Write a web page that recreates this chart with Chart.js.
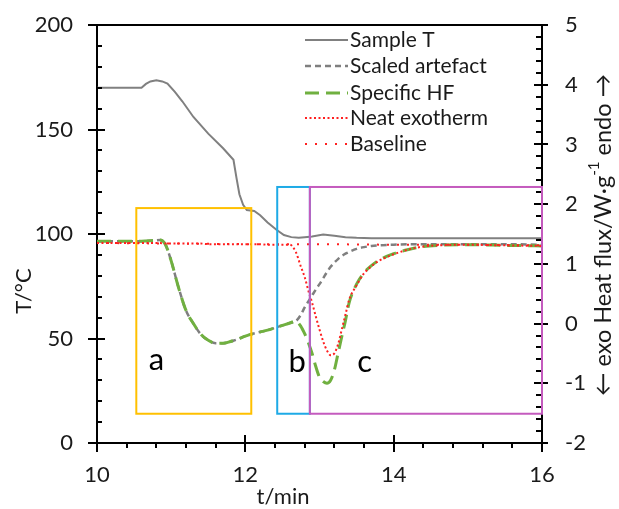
<!DOCTYPE html>
<html>
<head>
<meta charset="utf-8">
<script src="https://cdn.jsdelivr.net/npm/chart.js@4.4.1/dist/chart.umd.min.js"></script>
<style>
html,body{margin:0;padding:0;background:#fff;}
#wrap{width:619px;height:509px;position:relative;}
</style>
</head>
<body>
<div id="wrap"><canvas id="c"></canvas></div>
<script>
// ---------- data ----------
const tempTime   = [10.0, 10.6, 10.66, 10.72, 10.8, 10.88, 10.95, 11.05, 11.15, 11.3, 11.5, 11.7, 11.84, 11.88, 11.92, 11.97, 12.02, 12.12, 12.2, 12.3, 12.42, 12.52, 12.62, 12.72, 12.8, 12.9, 13.05, 13.2, 13.35, 13.5, 13.7, 14.0, 16.0];
const tempValues = [170, 170, 171.8, 173, 173.5, 173, 172, 168, 163.5, 156, 148, 141, 135.5, 127, 119, 114, 111.5, 111, 109, 105.5, 102, 99.5, 98.5, 98.2, 98.5, 98.8, 99.8, 99.2, 98.5, 98.2, 98, 98, 98];

const hfTime = [10.0, 10.3, 10.6, 10.75, 10.85, 10.92, 11.0, 11.1, 11.2, 11.3, 11.4, 11.5, 11.6, 11.7, 11.8, 11.9, 12.0, 12.1, 12.2, 12.3, 12.4, 12.5, 12.6, 12.68, 12.75, 12.8, 12.85, 12.9, 12.95, 13.0, 13.05, 13.1, 13.15, 13.2, 13.25, 13.3, 13.35, 13.4, 13.5, 13.6, 13.7, 13.8, 14.0, 14.2, 14.4, 14.6, 15.0, 15.5, 16.0];
const specificHF = [1.38, 1.38, 1.38, 1.39, 1.40, 1.33, 1.05, 0.6, 0.22, 0.0, -0.18, -0.28, -0.33, -0.33, -0.30, -0.26, -0.21, -0.17, -0.14, -0.11, -0.07, -0.03, 0.01, 0.04, -0.05, -0.17, -0.32, -0.5, -0.72, -0.9, -0.97, -1.0, -0.95, -0.78, -0.5, -0.22, 0.05, 0.35, 0.66, 0.85, 0.97, 1.06, 1.17, 1.24, 1.29, 1.31, 1.32, 1.31, 1.30];
const scaledArtefact = [1.38, 1.38, 1.38, 1.39, 1.40, 1.33, 1.05, 0.6, 0.22, 0.0, -0.18, -0.28, -0.33, -0.33, -0.30, -0.26, -0.21, -0.17, -0.14, -0.11, -0.07, -0.03, 0.01, 0.04, 0.15, 0.27, 0.37, 0.47, 0.57, 0.66, 0.76, 0.86, 0.95, 1.02, 1.08, 1.13, 1.17, 1.2, 1.25, 1.28, 1.3, 1.31, 1.32, 1.33, 1.33, 1.33, 1.33, 1.33, 1.32];
const neatExotherm = [1.35, 1.35, 1.35, 1.35, 1.35, 1.34, 1.34, 1.34, 1.34, 1.34, 1.34, 1.33, 1.33, 1.33, 1.33, 1.33, 1.33, 1.33, 1.33, 1.32, 1.32, 1.32, 1.32, 1.2, 0.95, 0.78, 0.55, 0.35, 0.12, -0.1, -0.3, -0.45, -0.53, -0.5, -0.35, -0.1, 0.15, 0.4, 0.64, 0.84, 0.96, 1.05, 1.16, 1.24, 1.29, 1.31, 1.32, 1.31, 1.30];

const baselineTime   = [10, 11, 12, 13, 14, 15, 16];
const baselineValues = [1.35, 1.34, 1.33, 1.33, 1.32, 1.32, 1.31];

const xTickValues     = [10, 12, 14, 16];
const leftTickValues  = [0, 50, 100, 150, 200];
const rightTickValues = [-2, -1, 0, 1, 2, 3, 4, 5];

const seriesLabels = ['Sample T', 'Scaled artefact', 'Specific HF', 'Neat exotherm', 'Baseline'];

// regions (data units: time, temperature)
const regionLabels = ['a', 'b', 'c'];
const regionStart  = [10.53, 12.43, 12.87];
const regionEnd    = [12.08, 12.87, 16.0];
const regionTop    = [112.4, 122.5, 122.5];
const regionBottom = [14, 14, 14];
const regionLabelTime = [10.8, 12.7, 13.61];
const regionLabelT    = [35, 34, 34];

// ---------- styles ----------
const FONT = 'Lato, "Open Sans", "DejaVu Sans", sans-serif';
const TEXT = '#1a1a1a';
const regionColors = ['#FFC000', '#1EAAE6', '#C45BBE'];

const pts = (xs, ys) => xs.map((x, i) => ({x: x, y: ys[i]}));

const datasets = [
  {label: seriesLabels[3], data: pts(hfTime, neatExotherm), yAxisID: 'y2', borderColor: '#FF2020', borderWidth: 2, borderDash: [2, 2.5], cubicInterpolationMode: 'monotone', order: 1},
  {label: seriesLabels[4], data: pts(baselineTime, baselineValues), yAxisID: 'y2', borderColor: '#FF2020', borderWidth: 2, borderDash: [2, 8], order: 0},
  {label: seriesLabels[1], data: pts(hfTime, scaledArtefact), yAxisID: 'y2', borderColor: '#7F7F7F', borderWidth: 2.5, borderDash: [6, 4], cubicInterpolationMode: 'monotone', order: 3},
  {label: seriesLabels[2], data: pts(hfTime, specificHF), yAxisID: 'y2', borderColor: '#70B040', borderWidth: 3, borderDash: [14, 7], cubicInterpolationMode: 'monotone', order: 2},
  {label: seriesLabels[0], data: pts(tempTime, tempValues), yAxisID: 'y', borderColor: '#808080', borderWidth: 2, order: 4}
];
datasets.forEach(d => { d.pointRadius = 0; d.fill = false; d.tension = d.cubicInterpolationMode ? 0.4 : 0; });

const legendOrder = [4, 2, 3, 0, 1]; // dataset indices in legend order

const customPlugin = {
  id: 'custom',
  afterDatasetsDraw(chart) {
    const ctx = chart.ctx;
    const xs = chart.scales.x, ys = chart.scales.y, y2 = chart.scales.y2;
    const area = chart.chartArea;
    ctx.save();
    ctx.strokeStyle = '#000'; ctx.lineWidth = 2;
    ctx.beginPath(); ctx.moveTo(area.left - 9, area.top); ctx.lineTo(area.right + 6, area.top); ctx.stroke();
    for (let v = 0; v <= 200; v += 10) {
      const y = Math.round(ys.getPixelForValue(v));
      ctx.beginPath();
      if (v % 50 === 0) { ctx.moveTo(area.left - 9, y); ctx.lineTo(area.left + 8, y); }
      else { ctx.moveTo(area.left, y); ctx.lineTo(area.left + 5, y); }
      ctx.stroke();
    }
    for (let k = -10; k <= 25; k++) {
      const v = k / 5;
      const y = Math.round(y2.getPixelForValue(v));
      ctx.beginPath();
      if (k % 5 === 0) { ctx.moveTo(area.right - 8, y); ctx.lineTo(area.right + 6, y); }
      else { ctx.moveTo(area.right - 6, y); ctx.lineTo(area.right, y); }
      ctx.stroke();
    }
    for (let k = 0; k <= 15; k++) {
      const v = 10 + k * 0.4;
      const x = Math.round(xs.getPixelForValue(v));
      ctx.beginPath();
      if (k % 5 === 0) { ctx.moveTo(x, area.bottom - 8); ctx.lineTo(x, area.bottom + 9); }
      else { ctx.moveTo(x, area.bottom); ctx.lineTo(x, area.bottom + 5); }
      ctx.stroke();
    }
    ctx.lineWidth = 2;
    regionLabels.forEach((lab, i) => {
      const x0 = xs.getPixelForValue(regionStart[i]), x1 = xs.getPixelForValue(regionEnd[i]);
      const yT = ys.getPixelForValue(regionTop[i]), yB = ys.getPixelForValue(regionBottom[i]);
      ctx.strokeStyle = regionColors[i];
      ctx.strokeRect(x0, yT, x1 - x0, yB - yT);
    });
    ctx.fillStyle = '#000';
    ctx.font = '31px ' + FONT;
    ctx.textAlign = 'center'; ctx.textBaseline = 'alphabetic';
    regionLabels.forEach((lab, i) => {
      ctx.fillText(lab, xs.getPixelForValue(regionLabelTime[i]), ys.getPixelForValue(regionLabelT[i]));
    });
    ctx.restore();
  },
  afterDraw(chart) {
    const ctx = chart.ctx;
    ctx.save();
    ctx.font = '21px ' + FONT;
    ctx.textBaseline = 'middle'; ctx.textAlign = 'left';
    const rowY = [40, 66, 93, 118, 144];
    legendOrder.forEach((di, r) => {
      const ds = chart.data.datasets[di];
      ctx.strokeStyle = ds.borderColor; ctx.lineWidth = ds.borderWidth;
      ctx.setLineDash(ds.borderDash || []);
      ctx.beginPath(); ctx.moveTo(305, rowY[r]); ctx.lineTo(348, rowY[r]); ctx.stroke();
      ctx.setLineDash([]);
      ctx.fillStyle = TEXT;
      ctx.fillText(ds.label, 350, rowY[r]);
    });
    ctx.fillStyle = TEXT;
    ctx.font = '22px ' + FONT;
    ctx.textAlign = 'center'; ctx.textBaseline = 'middle';
    ctx.fillText('t/min', 283, 497);
    ctx.save();
    ctx.translate(24, 291); ctx.rotate(-Math.PI / 2);
    ctx.fillText('T/°C', 0, 0);
    ctx.restore();
    ctx.save();
    ctx.translate(603, 235); ctx.rotate(-Math.PI / 2);
    const p1 = '← exo Heat flux/W·g', sup = '-1', p2 = ' endo →';
    ctx.font = '23.5px ' + FONT;
    const w1 = ctx.measureText(p1).width, w3 = ctx.measureText(p2).width;
    ctx.font = '15px ' + FONT;
    const w2 = ctx.measureText(sup).width;
    const total = w1 + w2 + w3;
    let x = -total / 2;
    ctx.textAlign = 'left';
    ctx.font = '23.5px ' + FONT;
    ctx.fillText(p1, x, 0); x += w1;
    ctx.font = '15px ' + FONT;
    ctx.fillText(sup, x, -9); x += w2;
    ctx.font = '23.5px ' + FONT;
    ctx.fillText(p2, x, 0);
    ctx.restore();
    ctx.restore();
  }
};

function fixX(s) { s.height = 66; s.paddingLeft = 0; s.paddingRight = 0; }
function fixY(w) { return s => { s.width = w; s.paddingTop = 0; s.paddingBottom = 0; }; }

new Chart(document.getElementById('c'), {
  type: 'line',
  data: {datasets: datasets},
  plugins: [customPlugin],
  options: {
    responsive: true,
    maintainAspectRatio: false,
    animation: false,
    layout: {padding: {top: 25, left: 0, right: 0, bottom: 0}},
    plugins: {legend: {display: false}, tooltip: {enabled: false}},
    scales: {
      x: {
        type: 'linear', min: 10, max: 16,
        afterFit: fixX,
        afterBuildTicks: s => { s.ticks = xTickValues.map(v => ({value: v})); },
        grid: {display: false, drawTicks: false},
        border: {display: true, color: '#000', width: 2},
        ticks: {font: {size: 22, family: FONT}, color: TEXT, padding: 19, maxRotation: 0, autoSkip: false}
      },
      y: {
        type: 'linear', position: 'left', min: 0, max: 200,
        afterFit: fixY(97),
        afterBuildTicks: s => { s.ticks = leftTickValues.map(v => ({value: v})); },
        grid: {display: false, drawTicks: false},
        border: {display: true, color: '#000', width: 2},
        ticks: {font: {size: 22, family: FONT}, color: TEXT, padding: 24}
      },
      y2: {
        type: 'linear', position: 'right', min: -2, max: 5,
        afterFit: fixY(77),
        afterBuildTicks: s => { s.ticks = rightTickValues.map(v => ({value: v})); },
        grid: {display: false, drawTicks: false},
        border: {display: true, color: '#000', width: 2},
        ticks: {font: {size: 22, family: FONT}, color: TEXT, padding: 23}
      }
    }
  }
});
</script>
</body>
</html>
